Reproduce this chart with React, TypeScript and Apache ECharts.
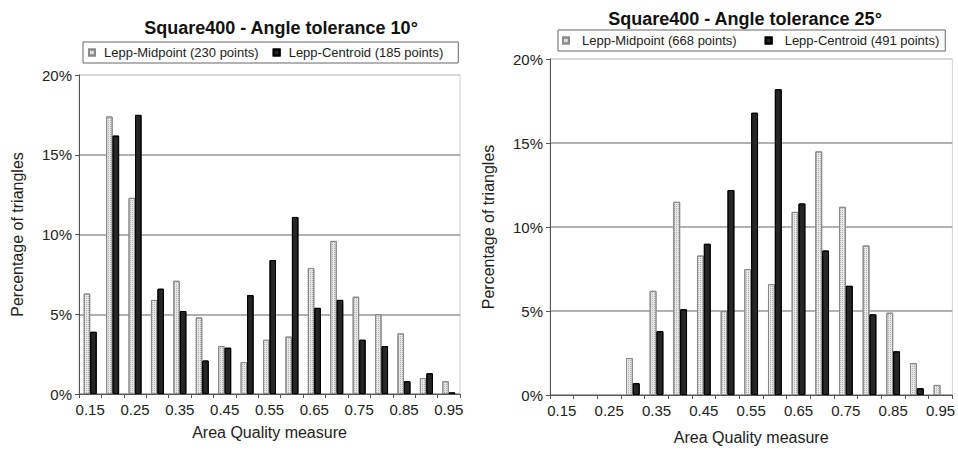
import React, { useEffect, useRef } from "react";
import * as echarts from "echarts";

const categories = ["0.15","0.2","0.25","0.3","0.35","0.4","0.45","0.5","0.55","0.6","0.65","0.7","0.75","0.8","0.85","0.9","0.95"];
const tickLabels = ["0.15","0.25","0.35","0.45","0.55","0.65","0.75","0.85","0.95"];

const leftTitle = "Square400 - Angle tolerance 10°";
const rightTitle = "Square400 - Angle tolerance 25°";
const leftMidName = "Lepp-Midpoint (230 points)";
const leftCenName = "Lepp-Centroid (185 points)";
const rightMidName = "Lepp-Midpoint (668 points)";
const rightCenName = "Lepp-Centroid (491 points)";

const leftMidpoint = [6.3, 17.4, 12.3, 5.9, 7.1, 4.8, 3.0, 2.0, 3.4, 3.6, 7.9, 9.6, 6.1, 5.0, 3.8, 1.0, 0.8];
const leftCentroid = [3.9, 16.2, 17.5, 6.6, 5.2, 2.1, 2.9, 6.2, 8.4, 11.1, 5.4, 5.9, 3.4, 3.0, 0.8, 1.3, 0.1];
const rightMidpoint = [0, 0, 0, 2.2, 6.2, 11.5, 8.3, 5.0, 7.5, 6.6, 10.9, 14.5, 11.2, 8.9, 4.9, 1.9, 0.6];
const rightCentroid = [0, 0, 0, 0.7, 3.8, 5.1, 9.0, 12.2, 16.8, 18.2, 11.4, 8.6, 6.5, 4.8, 2.6, 0.4, 0];

const FONT = "'Liberation Sans', Arial, sans-serif";
const TXT = "#222";

const noZero = (arr: number[]) => arr.map((v) => (v === 0 ? "-" : v));

export default function App() {
  const ref = useRef<HTMLDivElement>(null);
  useEffect(() => {
    if (!ref.current) return;
    const chart = echarts.init(ref.current, null, { renderer: "svg" });

    const midStyle = {
      color: "#e8e8e8",
      borderColor: "#8a8a8a",
      borderWidth: 1,
      decal: {
        symbol: "rect",
        symbolSize: 1,
        dashArrayX: [1, 1],
        dashArrayY: [1, 1],
        color: "rgba(120,120,120,0.5)",
        rotation: 0,
      },
    };
    const cenStyle = { color: "#262626", borderColor: "#000", borderWidth: 1, decal: { symbol: "none" } };

    const xAxis = (gridIndex: number, nameGap: number) => ({
      type: "category",
      gridIndex,
      data: categories,
      name: "Area Quality measure",
      nameLocation: "middle",
      nameGap,
      nameTextStyle: { fontFamily: FONT, fontSize: 16, color: TXT },
      axisLine: { lineStyle: { color: "#555", width: 1 } },
      axisTick: { show: true, interval: 0, length: 4, lineStyle: { color: "#555" } },
      axisLabel: {
        interval: 1,
        margin: 8,
        fontFamily: FONT,
        fontSize: 15,
        color: TXT,
        formatter: (v: string, i: number) => tickLabels[i / 2] ?? v,
      },
      splitLine: { show: false },
    });
    const yAxis = (gridIndex: number) => ({
      type: "value",
      gridIndex,
      min: 0,
      max: 20,
      interval: 5,
      name: "Percentage of triangles",
      nameLocation: "middle",
      nameGap: 54,
      nameTextStyle: { fontFamily: FONT, fontSize: 16, color: TXT },
      axisLine: { show: true, lineStyle: { color: "#555", width: 1 } },
      axisTick: { show: true, length: 4, lineStyle: { color: "#555" } },
      axisLabel: { fontFamily: FONT, fontSize: 15, color: TXT, margin: 7, formatter: "{value}%" },
      splitLine: { show: true, lineStyle: { color: ["#999", "#999", "#999", "#999", "#d0d0d0"], width: 1.5 } },
    });

    const legendCommon = {
      orient: "horizontal",
      icon: "rect",
      itemWidth: 6,
      itemHeight: 6,
      borderColor: "#666",
      borderWidth: 1,
      selectedMode: false,
    };

    chart.setOption({
      animation: false,
      backgroundColor: "#fff",
      title: [
        { text: leftTitle, left: 276, top: 14, textAlign: "center", textStyle: { fontFamily: FONT, fontSize: 18, fontWeight: "bold", color: "#111" } },
        { text: rightTitle, left: 740, top: 5, textAlign: "center", textStyle: { fontFamily: FONT, fontSize: 18, fontWeight: "bold", color: "#111" } },
      ],
      legend: [
        { ...legendCommon, data: [leftMidName, leftCenName], left: 83, top: 42, padding: [4, 15, 4, 5], itemGap: 14,
          textStyle: { fontFamily: FONT, fontSize: 13, color: TXT, padding: [0, 0, 0, 4] } },
        { ...legendCommon, data: [rightMidName, rightCenName], left: 558, top: 30, padding: [4, 6, 4, 4], itemGap: 28,
          textStyle: { fontFamily: FONT, fontSize: 13, color: TXT, padding: [0, 0, 0, 8] } },
      ],
      grid: [
        { left: 79, right: 498, top: 75, bottom: 56, show: true, borderColor: "#d0d0d0", borderWidth: 1, containLabel: false },
        { left: 550, right: 2, top: 59, bottom: 51, show: true, borderColor: "#d0d0d0", borderWidth: 1, containLabel: false },
      ],
      xAxis: [xAxis(0, 30), xAxis(1, 34)],
      yAxis: [yAxis(0), yAxis(1)],
      series: [
        { name: leftMidName, type: "bar", xAxisIndex: 0, yAxisIndex: 0, data: noZero(leftMidpoint), itemStyle: midStyle, barGap: "0%", barCategoryGap: "42%" },
        { name: leftCenName, type: "bar", xAxisIndex: 0, yAxisIndex: 0, data: noZero(leftCentroid), itemStyle: cenStyle, barGap: "0%", barCategoryGap: "42%" },
        { name: rightMidName, type: "bar", xAxisIndex: 1, yAxisIndex: 1, data: noZero(rightMidpoint), itemStyle: midStyle, barGap: "0%", barCategoryGap: "42%" },
        { name: rightCenName, type: "bar", xAxisIndex: 1, yAxisIndex: 1, data: noZero(rightCentroid), itemStyle: cenStyle, barGap: "0%", barCategoryGap: "42%" },
      ],
    });
    return () => chart.dispose();
  }, []);
  return <div ref={ref} style={{ position: "fixed", left: 0, top: 0, width: 958, height: 450 }} />;
}
